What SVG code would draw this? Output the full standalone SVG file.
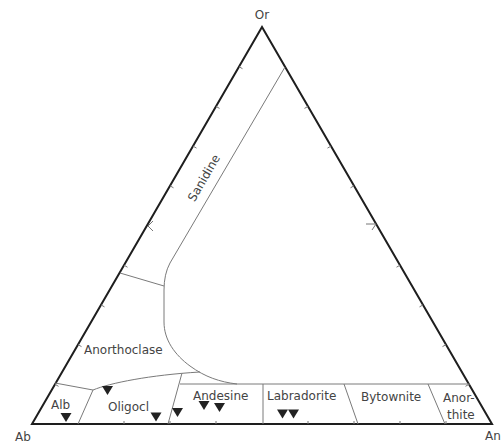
<svg xmlns="http://www.w3.org/2000/svg" width="502" height="443" viewBox="0 0 502 443">
<style>
text{font-family:"DejaVu Sans","Liberation Sans",sans-serif;font-size:12px;fill:#444}
.edge{fill:none;stroke:#1e1e1e;stroke-width:2;stroke-linejoin:miter}
.bd{fill:none;stroke:#7a7a7a;stroke-width:1}
.tk{fill:none;stroke:#777;stroke-width:1}
.mk{fill:#222}
</style>
<defs>
<path id="tri" d="M-5.5,-4.5 L5.5,-4.5 L0,4.5 Z"/>
</defs>
<rect width="502" height="443" fill="#fff"/>
<g id="frame">
<path class="edge" d="M32,424 L262,27 L492,424 Z"/>
</g>
<g id="ticks">
<path class="tk" d="M55,384.3 l3.5,2 M78,344.6 l3.5,2 M101,304.9 l3.5,2 M124,265.2 l3.5,2 M170,185.8 l3.5,2 M193,146.1 l3.5,2 M216,106.4 l3.5,2 M239,66.7 l3.5,2"/>
<path class="tk" d="M153,221 L148,226 L153,231"/>
<path class="tk" d="M469,384.3 l-3.5,2 M446,344.6 l-3.5,2 M423,304.9 l-3.5,2 M400,265.2 l-3.5,2 M354,185.8 l-3.5,2 M331,146.1 l-3.5,2 M308,106.4 l-3.5,2"/>
<path class="tk" d="M366,224 L376,224 M376,224 L372,230"/>
<path class="tk" d="M124,424 l0,-3 M170,424 l0,-3 M216,424 l0,-3 M308,424 l0,-3 M354,424 l0,-3 M400,424 l0,-3 M446,424 l0,-3"/>
</g>
<g id="connectors">
<path class="bd" d="M285,67 L170,263 Q164,274 164,290 L164,322 C164,340 175,355 190,366 C205,377 220,382 237,384"/>
<path class="bd" d="M120,273 L164,286"/>
<path class="bd" d="M55,383 L93,390 C110,383 150,375 200,372"/>
<path class="bd" d="M180,384 L470,384"/>
<path class="bd" d="M93,390 L78,424"/>
<path class="bd" d="M182,373 L168,424"/>
<path class="bd" d="M263,384 L263,424"/>
<path class="bd" d="M344,384 L358,424"/>
<path class="bd" d="M428,384 L445,424"/>
</g>
<g id="corner-or"><text x="262" y="19" text-anchor="middle">Or</text></g>
<g id="corner-ab"><text x="15" y="441">Ab</text></g>
<g id="corner-an"><text x="485" y="440">An</text></g>
<g id="sanidine"><text transform="translate(204,178) rotate(-60)" x="0" y="4" text-anchor="middle">Sanidine</text></g>
<g id="anorthoclase"><text x="84" y="354">Anorthoclase</text></g>
<g id="albite"><text x="51" y="409">Alb</text></g>
<g id="oligoclase"><text x="108" y="411">Oligocl</text></g>
<g id="andesine"><text x="193" y="400">Andesine</text></g>
<g id="labradorite"><text x="267" y="400">Labradorite</text></g>
<g id="bytownite"><text x="361" y="401">Bytownite</text></g>
<g id="anorthite"><text x="443" y="402">Anor-</text><text x="447" y="419">thite</text></g>
<g id="samples">
<use href="#tri" class="mk" x="107.5" y="390.5"/>
<use href="#tri" class="mk" x="66" y="417.5"/>
<use href="#tri" class="mk" x="156" y="417"/>
<use href="#tri" class="mk" x="177.5" y="412.5"/>
<use href="#tri" class="mk" x="204" y="405.5"/>
<use href="#tri" class="mk" x="219.5" y="407.5"/>
<use href="#tri" class="mk" x="282.5" y="414"/>
<use href="#tri" class="mk" x="293.5" y="414"/>
</g>
</svg>
